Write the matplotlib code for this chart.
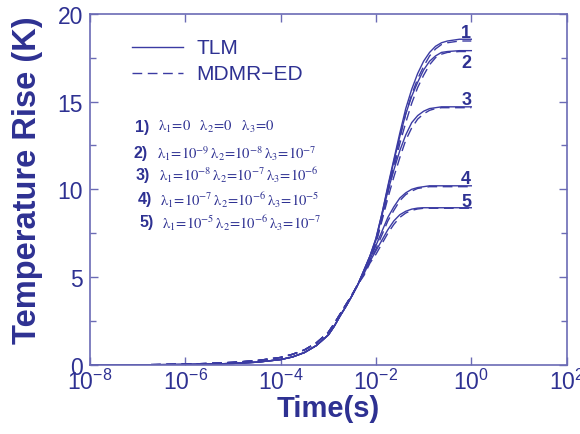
import numpy as np
import matplotlib
matplotlib.use('Agg')
import matplotlib.pyplot as plt

# log10 of time (s) at which the curves were read
log_t = [-8, -7, -6, -5.5, -5, -4.5, -4, -3.75, -3.5, -3.25,
         -3, -2.875, -2.75, -2.625, -2.5, -2.375, -2.25,
         -2.125, -2, -1.875, -1.75, -1.625, -1.5, -1.375, -1.25, -1.125,
         -1, -0.875, -0.75, -0.625, -0.5, -0.25, 0]

# TLM (solid) curves, cases 1..5
tlm_1 = [0, 0, 0.02, 0.04, 0.08, 0.15, 0.3, 0.45, 0.7, 1.1,
         1.7, 2.2, 2.8, 3.35, 3.95, 4.6, 5.4,
         6.2, 7.2, 8.6, 10.2, 11.7, 13.2, 14.6, 15.7, 16.6,
         17.3, 17.8, 18.15, 18.35, 18.45, 18.55, 18.55]
tlm_2 = [0, 0, 0.02, 0.04, 0.08, 0.15, 0.3, 0.45, 0.7, 1.1,
         1.7, 2.2, 2.8, 3.35, 3.95, 4.6, 5.4,
         6.2, 7.2, 8.6, 10.1, 11.6, 13.0, 14.3, 15.3, 16.1,
         16.8, 17.3, 17.6, 17.8, 17.85, 17.9, 17.9]
tlm_3 = [0, 0, 0.02, 0.04, 0.08, 0.15, 0.3, 0.45, 0.7, 1.1,
         1.7, 2.2, 2.8, 3.35, 3.95, 4.6, 5.4,
         6.2, 7.1, 8.5, 9.9, 11.1, 12.2, 13.1, 13.8, 14.2,
         14.45, 14.6, 14.65, 14.7, 14.7, 14.7, 14.7]
tlm_4 = [0, 0, 0.02, 0.04, 0.08, 0.15, 0.3, 0.45, 0.7, 1.1,
         1.7, 2.2, 2.8, 3.35, 3.95, 4.6, 5.3,
         6.0, 6.8, 7.6, 8.4, 9.0, 9.5, 9.8, 10.0, 10.1,
         10.15, 10.2, 10.2, 10.2, 10.2, 10.2, 10.2]
tlm_5 = [0, 0, 0.02, 0.04, 0.08, 0.15, 0.3, 0.45, 0.7, 1.1,
         1.7, 2.2, 2.8, 3.35, 3.95, 4.6, 5.2,
         5.9, 6.5, 7.1, 7.7, 8.2, 8.55, 8.75, 8.87, 8.93,
         8.95, 8.95, 8.95, 8.95, 8.95, 8.95, 8.95]

# MDMR-ED (dashed) curves, cases 1..5
mdmr_1 = [0, 0, 0.04, 0.08, 0.14, 0.24, 0.42, 0.6, 0.85, 1.25,
          1.85, 2.35, 2.9, 3.45, 4.0, 4.6, 5.3,
          6.1, 7.0, 8.4, 9.9, 11.4, 12.9, 14.3, 15.4, 16.3,
          17.0, 17.6, 18.0, 18.25, 18.35, 18.45, 18.45]
mdmr_2 = [0, 0, 0.04, 0.08, 0.14, 0.24, 0.42, 0.6, 0.85, 1.25,
          1.85, 2.35, 2.9, 3.45, 4.0, 4.6, 5.3,
          6.1, 7.0, 8.3, 9.8, 11.2, 12.6, 13.8, 14.9, 15.8,
          16.5, 17.1, 17.5, 17.7, 17.8, 17.85, 17.85]
mdmr_3 = [0, 0, 0.04, 0.08, 0.14, 0.24, 0.42, 0.6, 0.85, 1.25,
          1.85, 2.35, 2.9, 3.45, 4.0, 4.6, 5.3,
          6.0, 6.9, 8.2, 9.5, 10.7, 11.8, 12.8, 13.5, 14.0,
          14.3, 14.5, 14.6, 14.65, 14.65, 14.65, 14.65]
mdmr_4 = [0, 0, 0.04, 0.08, 0.14, 0.24, 0.42, 0.6, 0.85, 1.25,
          1.85, 2.35, 2.9, 3.45, 4.0, 4.6, 5.2,
          5.9, 6.6, 7.4, 8.2, 8.8, 9.35, 9.7, 9.9, 10.05,
          10.1, 10.15, 10.15, 10.15, 10.15, 10.15, 10.15]
mdmr_5 = [0, 0, 0.04, 0.08, 0.14, 0.24, 0.42, 0.6, 0.85, 1.25,
          1.85, 2.35, 2.9, 3.45, 4.0, 4.6, 5.1,
          5.8, 6.3, 6.9, 7.5, 8.0, 8.4, 8.65, 8.8, 8.88,
          8.92, 8.92, 8.92, 8.92, 8.92, 8.92, 8.92]

case_labels = ['1', '2', '3', '4', '5']
lam1 = ['0', '10^{-9}', '10^{-8}', '10^{-7}', '10^{-5}']
lam2 = ['0', '10^{-8}', '10^{-7}', '10^{-6}', '10^{-6}']
lam3 = ['0', '10^{-7}', '10^{-6}', '10^{-5}', '10^{-7}']

blue = '#2e3192'
line_c = '#3b3ba3'
spine_c = '#6b6bb5'

plt.rcParams['mathtext.fontset'] = 'stix'
plt.rcParams['font.family'] = ['Liberation Sans', 'DejaVu Sans']

fig = plt.figure(figsize=(5.8, 4.35), dpi=100)
ax = fig.add_axes([0.155, 0.159, 0.822, 0.807])

t = 10.0 ** np.array(log_t)
tlm = [tlm_1, tlm_2, tlm_3, tlm_4, tlm_5]
mdmr = [mdmr_1, mdmr_2, mdmr_3, mdmr_4, mdmr_5]
for y in tlm:
    ax.plot(t, y, color=line_c, lw=1.0)
for y in mdmr:
    ax.plot(t, y, color=line_c, lw=1.0, ls=(0, (7, 4)))

ax.set_xscale('log')
ax.set_xlim(1e-8, 1e2)
ax.set_ylim(0, 20)
xt = [1e-8, 1e-6, 1e-4, 1e-2, 1e0, 1e2]
ax.set_xticks(xt)
ax.set_xticklabels([r'$\mathregular{10^{%d}}$' % int(np.log10(v)) for v in xt])
ax.xaxis.set_minor_locator(matplotlib.ticker.NullLocator())
ax.set_yticks([0, 5, 10, 15, 20])
ax.set_yticks(np.arange(2.5, 20, 5), minor=True)
ax.tick_params(which='both', direction='in', top=True, right=True,
               colors=spine_c, labelcolor=blue, labelsize=16.5, width=1)
ax.tick_params(which='major', length=6)
ax.tick_params(which='minor', length=4)
ax.tick_params(axis='x', pad=3)
ax.tick_params(axis='y', pad=5)
for s in ax.spines.values():
    s.set_color(spine_c)
    s.set_linewidth(1.2)

ax.set_xlabel('Time(s)', fontsize=21, fontweight='bold', color=blue, labelpad=0)
ax.set_ylabel('Temperature Rise (K)', fontsize=23.5, fontweight='bold', color=blue)
ax.yaxis.set_label_coords(-0.098, 0.53)

# legend drawn by hand to match the layout
ax.plot([7.6e-8, 8.9e-7], [18.1, 18.1], color=line_c, lw=1.0)
ax.plot([7.6e-8, 8.9e-7], [16.6, 16.6], color=line_c, lw=1.0, ls=(0, (7, 4)))
ax.text(1.7e-6, 18.1, 'TLM', color=blue, fontsize=15, va='center')
ax.text(1.7e-6, 16.6, 'MDMR\u2212ED', color=blue, fontsize=15, va='center')

# parameter list
L = r'\mathrm{\lambda}'
row_y = [13.6, 12.1, 10.85, 9.45, 8.15]
row_x = [0.094, 0.092, 0.096, 0.1, 0.104]
for i in range(5):
    yfr = row_y[i] / 20
    ax.text(row_x[i], yfr, case_labels[i] + ')', transform=ax.transAxes,
            color=blue, fontsize=11.5, fontweight='bold', va='center')
    if i == 0:
        s = r'$%s_1\!=\!0\quad%s_2\!=\!0\quad%s_3\!=\!0$' % (L, L, L)
    else:
        s = (r'$%s_1\!=\!%s\,%s_2\!=\!%s\,%s_3\!=\!%s$'
             % (L, lam1[i], L, lam2[i], L, lam3[i]))
    ax.text(row_x[i] + 0.048, yfr, s, transform=ax.transAxes, color=blue,
            fontsize=10.5, va='center')

# case numbers at the curve ends
end_y = [18.95, 17.2, 15.1, 10.6, 9.3]
for i in range(5):
    ax.text(0.78, end_y[i], case_labels[i], color=blue, fontsize=13,
            fontweight='bold', ha='center', va='center')

fig.savefig('out.png', dpi=100)
